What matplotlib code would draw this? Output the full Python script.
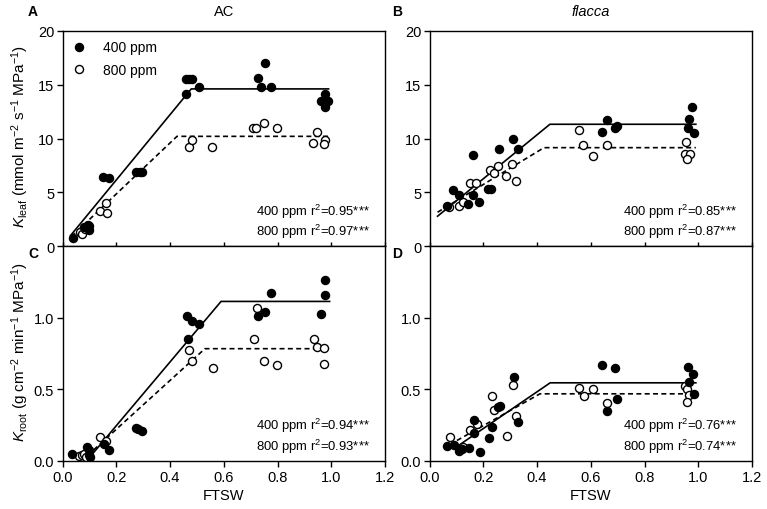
import matplotlib
matplotlib.use("Agg")
import matplotlib.pyplot as plt

plt.rcParams['font.family'] = ['Liberation Sans', 'DejaVu Sans']
plt.rcParams['mathtext.fontset'] = 'custom'
plt.rcParams['mathtext.rm'] = 'Liberation Sans'
plt.rcParams['mathtext.it'] = 'Liberation Sans:italic'
plt.rcParams['mathtext.bf'] = 'Liberation Sans:bold'

# ---------------- Data ----------------
# Panel A: AC, K_leaf
A400_x = [0.040, 0.080, 0.095, 0.100, 0.099, 0.151, 0.173, 0.275, 0.287, 0.296,
          0.461, 0.461, 0.471, 0.483, 0.508, 0.729, 0.752, 0.739, 0.776,
          0.975, 0.963, 0.987, 0.977]
A400_y = [0.78, 1.8, 2.0, 1.55, 1.9, 6.45, 6.3, 6.9, 6.9, 6.9,
          14.1, 15.5, 15.5, 15.5, 14.8, 15.6, 17.05, 14.8, 14.8,
          14.1, 13.5, 13.5, 12.9]
A800_x = [0.064, 0.074, 0.085, 0.139, 0.163, 0.167, 0.469, 0.480, 0.557,
          0.708, 0.721, 0.748, 0.797, 0.931, 0.947, 0.975, 0.972]
A800_y = [1.3, 1.1, 1.6, 3.25, 4.0, 3.1, 9.2, 9.9, 9.2,
          11.0, 11.0, 11.4, 11.0, 9.55, 10.6, 9.85, 9.45]
A_fit400_x = [0.030, 0.479, 0.990]
A_fit400_y = [1.0, 14.6, 14.6]
A_fit800_x = [0.033, 0.426, 0.990]
A_fit800_y = [0.9, 10.2, 10.2]

# Panel B: flacca, K_leaf
B400_x = [0.064, 0.089, 0.111, 0.145, 0.161, 0.163, 0.186, 0.219, 0.229, 0.259,
          0.312, 0.328, 0.640, 0.659, 0.690, 0.696, 0.966, 0.978, 0.962, 0.983]
B400_y = [3.72, 5.18, 4.74, 3.94, 4.74, 8.43, 4.09, 5.27, 5.27, 9.0,
          9.92, 9.0, 10.64, 11.69, 11.0, 11.16, 11.78, 12.93, 11.0, 10.54]
B800_x = [0.074, 0.108, 0.124, 0.149, 0.173, 0.225, 0.240, 0.256, 0.285, 0.308,
          0.321, 0.556, 0.572, 0.607, 0.659, 0.956, 0.952, 0.971, 0.958]
B800_y = [3.63, 3.72, 4.09, 5.89, 5.83, 7.07, 6.76, 7.44, 6.51, 7.66,
          6.05, 10.76, 9.36, 8.37, 9.36, 9.67, 8.59, 8.59, 8.12]
B_fit400_x = [0.030, 0.448, 0.991]
B_fit400_y = [2.79, 11.32, 11.32]
B_fit800_x = [0.030, 0.426, 0.991]
B_fit800_y = [3.16, 9.15, 9.15]

# Panel C: AC, K_root
C400_x = [0.037, 0.093, 0.097, 0.099, 0.102, 0.155, 0.174, 0.273, 0.282, 0.294,
          0.462, 0.482, 0.507, 0.466, 0.727, 0.752, 0.776, 0.975, 0.975, 0.963]
C400_y = [0.047, 0.093, 0.075, 0.040, 0.023, 0.117, 0.077, 0.227, 0.222, 0.206,
          1.009, 0.974, 0.958, 0.848, 1.012, 1.040, 1.175, 1.262, 1.157, 1.028]
C800_x = [0.062, 0.072, 0.081, 0.089, 0.139, 0.161, 0.470, 0.481, 0.559,
          0.712, 0.724, 0.748, 0.798, 0.934, 0.948, 0.973, 0.973]
C800_y = [0.035, 0.040, 0.047, 0.023, 0.168, 0.140, 0.771, 0.699, 0.650,
          0.848, 1.068, 0.694, 0.666, 0.848, 0.797, 0.785, 0.678]
C_fit400_x = [0.100, 0.590, 0.994]
C_fit400_y = [0.020, 1.114, 1.114]
C_fit800_x = [0.093, 0.530, 0.994]
C_fit800_y = [0.035, 0.783, 0.783]

# Panel D: flacca, K_root
D400_x = [0.064, 0.093, 0.110, 0.120, 0.147, 0.164, 0.166, 0.188, 0.222, 0.232,
          0.254, 0.263, 0.316, 0.328, 0.641, 0.690, 0.662, 0.699,
          0.963, 0.979, 0.967, 0.984]
D400_y = [0.105, 0.112, 0.065, 0.082, 0.086, 0.285, 0.194, 0.063, 0.157, 0.234,
          0.374, 0.381, 0.584, 0.273, 0.671, 0.647, 0.350, 0.428,
          0.652, 0.607, 0.549, 0.463]
D800_x = [0.077, 0.126, 0.151, 0.176, 0.232, 0.240, 0.290, 0.310, 0.322,
          0.558, 0.575, 0.610, 0.659, 0.950, 0.957, 0.967, 0.957]
D800_y = [0.164, 0.093, 0.215, 0.257, 0.449, 0.355, 0.175, 0.526, 0.315,
          0.507, 0.451, 0.498, 0.404, 0.521, 0.498, 0.460, 0.409]
D_fit400_x = [0.108, 0.449, 0.991]
D_fit400_y = [0.105, 0.544, 0.544]
D_fit800_x = [0.102, 0.411, 0.991]
D_fit800_y = [0.140, 0.467, 0.467]

r2_values = {
    'A': ['0.95', '0.97'],
    'B': ['0.85', '0.87'],
    'C': ['0.94', '0.93'],
    'D': ['0.76', '0.74'],
}
series_names = ['400 ppm', '800 ppm']
x_ticks = [0.0, 0.2, 0.4, 0.6, 0.8, 1.0, 1.2]
x_ticklabels = ['0.0', '0.2', '0.4', '0.6', '0.8', '1.0', '1.2']
leaf_ticks = [0, 5, 10, 15, 20]
root_ticks = [0.0, 0.5, 1.0]
root_ticklabels = ['0.0', '0.5', '1.0']

# ---------------- Figure ----------------
W, H = 767, 510
fig = plt.figure(figsize=(W / 100, H / 100), dpi=100)

def frac(x0, y_top, x1, y_bot):
    return [x0 / W, 1 - y_bot / H, (x1 - x0) / W, (y_bot - y_top) / H]

axA = fig.add_axes(frac(62.5, 31.7, 385, 247.3))
axB = fig.add_axes(frac(429.5, 31.7, 752, 247.3))
axC = fig.add_axes(frac(62.5, 247.3, 385, 461.5))
axD = fig.add_axes(frac(429.5, 247.3, 752, 461.5))

panels = [
    (axA, A400_x, A400_y, A800_x, A800_y, A_fit400_x, A_fit400_y, A_fit800_x, A_fit800_y, 'A', True),
    (axB, B400_x, B400_y, B800_x, B800_y, B_fit400_x, B_fit400_y, B_fit800_x, B_fit800_y, 'B', True),
    (axC, C400_x, C400_y, C800_x, C800_y, C_fit400_x, C_fit400_y, C_fit800_x, C_fit800_y, 'C', False),
    (axD, D400_x, D400_y, D800_x, D800_y, D_fit400_x, D_fit400_y, D_fit800_x, D_fit800_y, 'D', False),
]

ms = 5.8
for ax, x4, y4, x8, y8, fx4, fy4, fx8, fy8, key, top in panels:
    ax.plot(fx4, fy4, color='black', lw=1.2, ls='-', zorder=2)
    ax.plot(fx8, fy8, color='black', lw=1.2, ls=(0, (3, 2)), zorder=2)
    ax.plot(x8, y8, 'o', ms=ms, mfc='white', mec='black', mew=1.0, ls='none',
            zorder=3, label=series_names[1])
    ax.plot(x4, y4, 'o', ms=ms, mfc='black', mec='black', mew=1.0, ls='none',
            zorder=4, label=series_names[0])
    ax.set_xlim(0, 1.2)
    ax.set_xticks(x_ticks)
    for s in ax.spines.values():
        s.set_linewidth(1.0)
    if top:
        ax.set_ylim(0, 20)
        ax.set_yticks(leaf_ticks)
        ax.tick_params(axis='x', direction='in', length=3, width=1.0, labelbottom=False)
    else:
        ax.set_ylim(0, 1.5)
        ax.set_yticks(root_ticks)
        ax.set_yticklabels(root_ticklabels)
        ax.set_xticklabels(x_ticklabels)
        ax.tick_params(axis='x', direction='out', length=4, width=1.0, labelsize=10.5, pad=3)
        ax.set_xlabel('FTSW', fontsize=10.5, labelpad=3)
    ax.tick_params(axis='y', direction='out', length=4, width=1.0, labelsize=10.5, pad=2)
    for i, yy in enumerate([0.165, 0.070]):
        txt = series_names[i] + r' r$^{2}$=' + r2_values[key][i] + '***'
        ax.text(0.953, yy, txt, transform=ax.transAxes,
                ha='right', va='center', fontsize=9.4)

# legend in A
h, l = axA.get_legend_handles_labels()
axA.legend([h[1], h[0]], [l[1], l[0]], loc='upper left', frameon=False,
           fontsize=10, handlelength=1.0, handletextpad=1.2, borderaxespad=0.3,
           labelspacing=0.6, bbox_to_anchor=(0.0, 1.0))

# titles
axA.set_title('AC', fontsize=10.5, pad=11)
axB.set_title('flacca', fontsize=10.5, style='italic', pad=11)

# panel letters
fig.text(33 / W, 1 - 12 / H, 'A', fontsize=10, fontweight='bold', ha='center', va='center')
fig.text(397 / W, 1 - 12 / H, 'B', fontsize=10, fontweight='bold', ha='center', va='center')
fig.text(33 / W, 1 - 254 / H, 'C', fontsize=10, fontweight='bold', ha='center', va='center')
fig.text(397 / W, 1 - 254 / H, 'D', fontsize=10, fontweight='bold', ha='center', va='center')

# y labels
fig.text(20 / W, 1 - 136 / H, r'$K_{\mathrm{leaf}}$ (mmol m$^{-2}$ s$^{-1}$ MPa$^{-1}$)',
         rotation=90, ha='center', va='center', fontsize=11)
fig.text(20 / W, 1 - 352 / H, r'$K_{\mathrm{root}}$ (g cm$^{-2}$ min$^{-1}$ MPa$^{-1}$)',
         rotation=90, ha='center', va='center', fontsize=11)

fig.savefig('out.png', dpi=100)
